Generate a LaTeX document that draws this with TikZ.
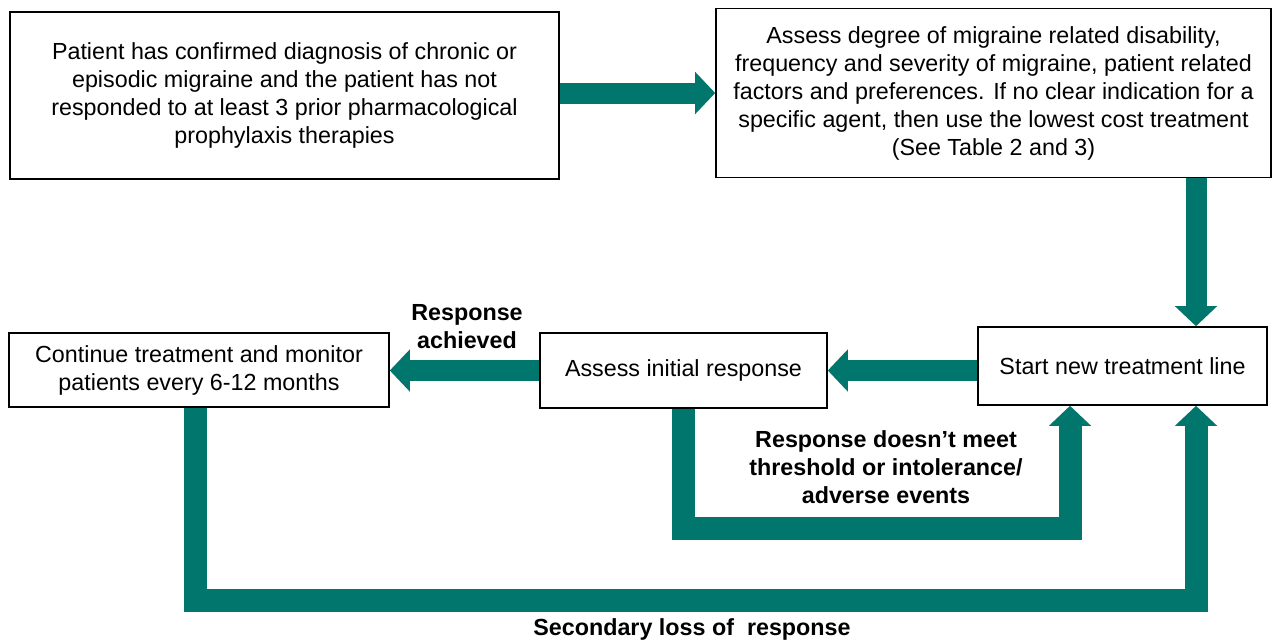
\documentclass[tikz,border=0pt]{standalone}
\usepackage{fontspec}
\setmainfont{Liberation Sans}
\usetikzlibrary{arrows.meta}
\definecolor{teal}{RGB}{0,118,108}
\begin{document}
\begin{tikzpicture}[x=1pt,y=-1pt,
  box/.style={draw=black,line width=1.6pt,fill=white,rectangle,inner sep=0pt,align=center,
    font=\fontsize{23.3}{28}\selectfont},
  flow/.style={draw=teal,line width=21pt,line join=miter,
    -{Triangle[width=41pt,length=20pt]}},
  loopflow/.style={flow,line width=23pt},
  lab/.style={align=center,font=\fontsize{23.3}{28}\selectfont\bfseries,inner sep=0pt}]
\useasboundingbox (0,0) rectangle (1284,641);
\fill[white] (0,0) rectangle (1284,641);
% boxes
\node[box,minimum width=549pt,minimum height=167pt] (b1) at (284.5,95.5)
  {Patient has confirmed diagnosis of chronic or\\episodic migraine and the patient has not\\responded to at least 3 prior pharmacological\\prophylaxis therapies};
\node[box,minimum width=555pt,minimum height=169pt] (b2) at (993.5,93)
  {Assess degree of migraine related disability,\\frequency and severity of migraine, patient related\\factors and preferences. If no clear indication for a\\specific agent, then use the lowest cost treatment\\(See Table 2 and 3)};
\node[box,minimum width=380pt,minimum height=74pt] (cont) at (199,370)
  {Continue treatment and monitor\\patients every 6-12 months};
\node[box,minimum width=287pt,minimum height=75pt] (assess) at (683.5,370.5)
  {Assess initial response};
\node[box,minimum width=289pt,minimum height=78pt] (start) at (1122.5,366)
  {Start new treatment line};
% helper coordinates
\coordinate (dx) at (1196,0);
\coordinate (l1) at (1070,528.5);
\coordinate (l2a) at (195,600.5);
\coordinate (l2b) at (1196,600.5);
% connectors
\draw[flow] (b1.east |- 0,93) -- (b2.west |- 0,93);
\draw[flow] (b2.south -| dx) -- (start.north -| dx);
\draw[flow] (start.west |- assess.east) -- (assess.east);
\draw[flow] (assess.west) -- (cont.east |- assess.west);
\draw[loopflow] (assess.south) |- (l1) -- (l1 |- start.south);
\draw[loopflow] (cont.south -| l2a) |- (l2b) -- (l2b |- start.south);
% labels
\node[lab] (la) at (467,327) {Response\\achieved};
\node[lab] (lb) at (886,467) {Response doesn’t meet\\threshold or intolerance/\\adverse events};
\node[lab] (lc) at (692,629) {Secondary loss of\ \ response};
\end{tikzpicture}
\end{document}
